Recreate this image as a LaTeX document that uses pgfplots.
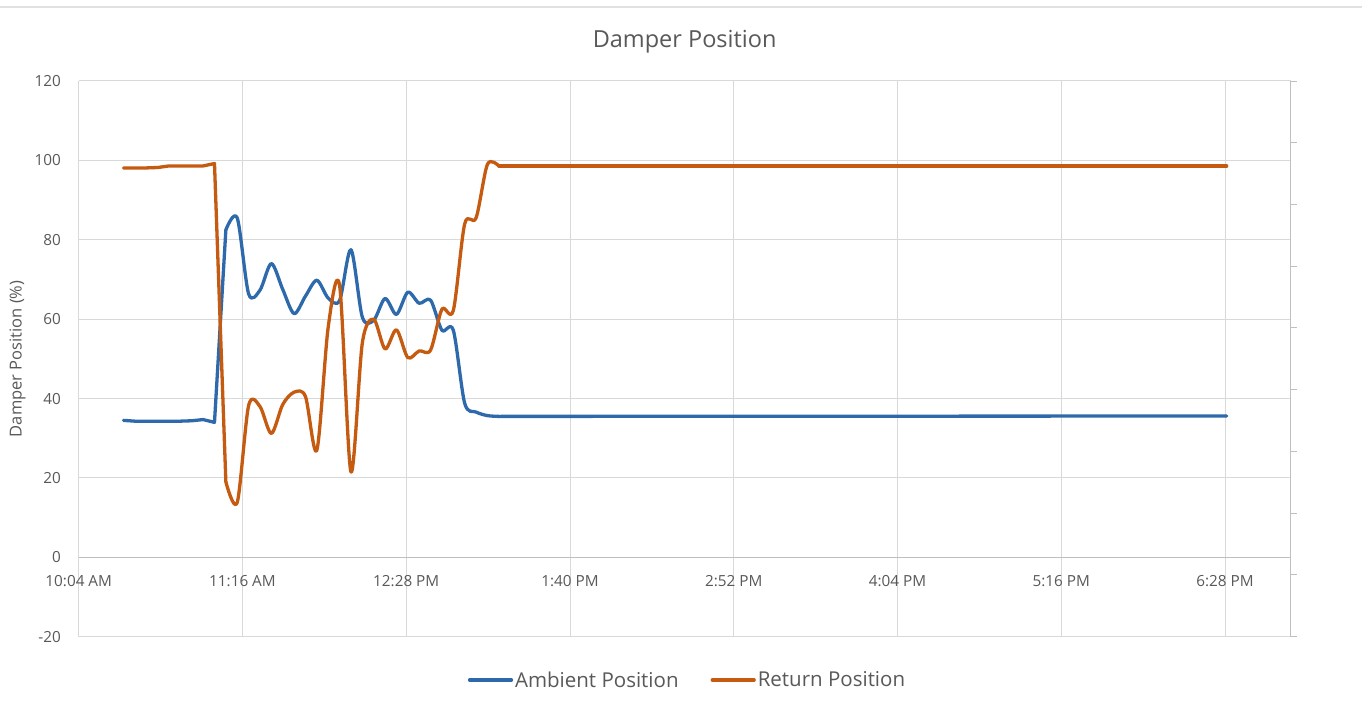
\documentclass[border=0pt]{standalone}
\usepackage{fontspec}
\setmainfont{Open Sans}
\usepackage{pgfplots}
\pgfplotsset{compat=1.18}
\definecolor{amb}{HTML}{2E6AAB}
\definecolor{ret}{HTML}{C55A11}
\definecolor{txt}{HTML}{595959}
\definecolor{grd}{HTML}{D9D9D9}
\definecolor{axl}{HTML}{BFBFBF}
\begin{document}
\begin{tikzpicture}
\useasboundingbox (0,0) rectangle (1362pt,701pt);
\fill[white] (0,0) rectangle (1362pt,701pt);
\draw[color=grd!80, line width=1.5pt] (0,694pt) -- (1362pt,694pt);
\begin{axis}[
  at={(78.7pt,64.3pt)}, anchor=south west,
  scale only axis, width=1211.8pt, height=555.7pt,
  xmin=604.8, xmax=1137.6, ymin=-20, ymax=120,
  axis x line=middle, axis y line=left,
  axis line style={-},
  x axis line style={draw=axl, line width=1pt},
  y axis line style={draw=grd, line width=1pt},
  hide obscured x ticks=false, hide obscured y ticks=false,
  xtick={604.8,676.8,748.8,820.8,892.8,964.8,1036.8,1108.8},
  xticklabels={10:04 AM,11:16 AM,12:28 PM,1:40 PM,2:52 PM,4:04 PM,5:16 PM,6:28 PM},
  ytick={-20,0,20,40,60,80,100,120},
  yticklabels={-20,0,20,40,60,80,100,120},
  grid=major, major grid style={draw=grd, line width=1pt},
  major tick length=0pt, tick style={draw=none},
  ticklabel style={font=\fontsize{15.3}{18}\selectfont, text=txt, inner sep=0pt},
  xticklabel style={anchor=north, yshift=-18pt},
  yticklabel style={anchor=east, xshift=-17.7pt},
  title={Damper Position},
  title style={at={(0.5,1.050)}, anchor=base, font=\fontsize{23.5}{28}\selectfont, text=txt, inner sep=0pt},
  every axis y label/.style={at={(axis description cs:-0.0505,0.5)}, rotate=90, anchor=center},
  ylabel={Damper Position (\%)},
  ylabel style={font=\fontsize{16.5}{20}\selectfont, text=txt},
  legend columns=2,
  legend cell align=left,
  legend style={at={(0.5024,-0.078)}, anchor=center, draw=none, fill=none,
    font=\fontsize{20.5}{24}\selectfont, text=txt,
    /tikz/every even column/.append style={column sep=30pt}},
  legend image code/.code={\draw[#1, line width=3.2pt] (0pt,0pt) -- (42pt,0pt);},
  every axis plot/.append style={line width=3.3pt, line join=round, line cap=round},
]
% Ambient Position
\addplot[amb, sharp plot] coordinates {
(624.5,34.5) (629.5,34.3) (634.5,34.3) (639.5,34.3) (644.5,34.3) (649.5,34.3)
(654.5,34.4) (659.5,34.7) (664.5,34.0) (669.5,82.5)
};
\addlegendentry{Ambient Position}
\addplot[amb, smooth, tension=0.5, forget plot] coordinates {
(669.5,82.5) (674.5,85.5) (679.5,66.4) (684.5,67.3) (689.5,74.0) (694.5,67.5)
(699.5,61.4) (704.5,65.8) (709.5,69.8) (714.5,65.3) (719.5,64.7) (724.5,77.5)
(729.5,60.5) (734.5,59.7) (739.5,65.2) (744.5,61.2) (749.5,66.8) (754.5,64.0)
(759.5,64.8) (764.5,57.2) (769.5,57.2) (774.5,38.8) (779.5,36.6) (784.5,35.7)
(789.5,35.5)
};
\addplot[amb, sharp plot, forget plot] coordinates {
(789.5,35.5) (1109.5,35.6)
};
% Return Position
\addplot[ret, sharp plot] coordinates {
(624.5,98.1) (629.5,98.1) (634.5,98.1) (639.5,98.2) (644.5,98.6) (649.5,98.6)
(654.5,98.6) (659.5,98.6) (664.5,99.2) (669.5,19.0)
};
\addlegendentry{Return Position}
\addplot[ret, smooth, tension=0.5, forget plot] coordinates {
(669.5,19.0) (674.5,13.8) (679.5,38.2) (684.5,38.0) (689.5,31.2) (694.5,38.5)
(699.5,41.6) (704.5,40.5) (709.5,27.0) (714.5,58.0) (719.5,68.5) (724.5,21.5)
(729.5,54.0) (734.5,60.0) (739.5,52.5) (744.5,57.3) (749.5,50.3) (754.5,52.0)
(759.5,52.2) (764.5,62.5) (769.5,62.2) (774.5,84.0) (779.5,85.5) (784.5,99.0)
(789.5,98.6)
};
\addplot[ret, sharp plot, forget plot] coordinates {
(789.5,98.6) (1109.5,98.6)
};
\end{axis}
\begin{axis}[
  at={(78.7pt,64.3pt)}, anchor=south west,
  scale only axis, width=1211.8pt, height=555.7pt,
  xmin=0, xmax=1, ymin=0, ymax=9,
  axis x line=none, axis y line*=right,
  axis line style={-},
  y axis line style={draw=axl, line width=1pt},
  ytick={0,1,2,3,4,5,6,7,8,9}, yticklabels={},
  tick align=outside, major tick length=6pt,
  ytick style={draw=axl, line width=1pt},
]
\end{axis}
\end{tikzpicture}
\end{document}
